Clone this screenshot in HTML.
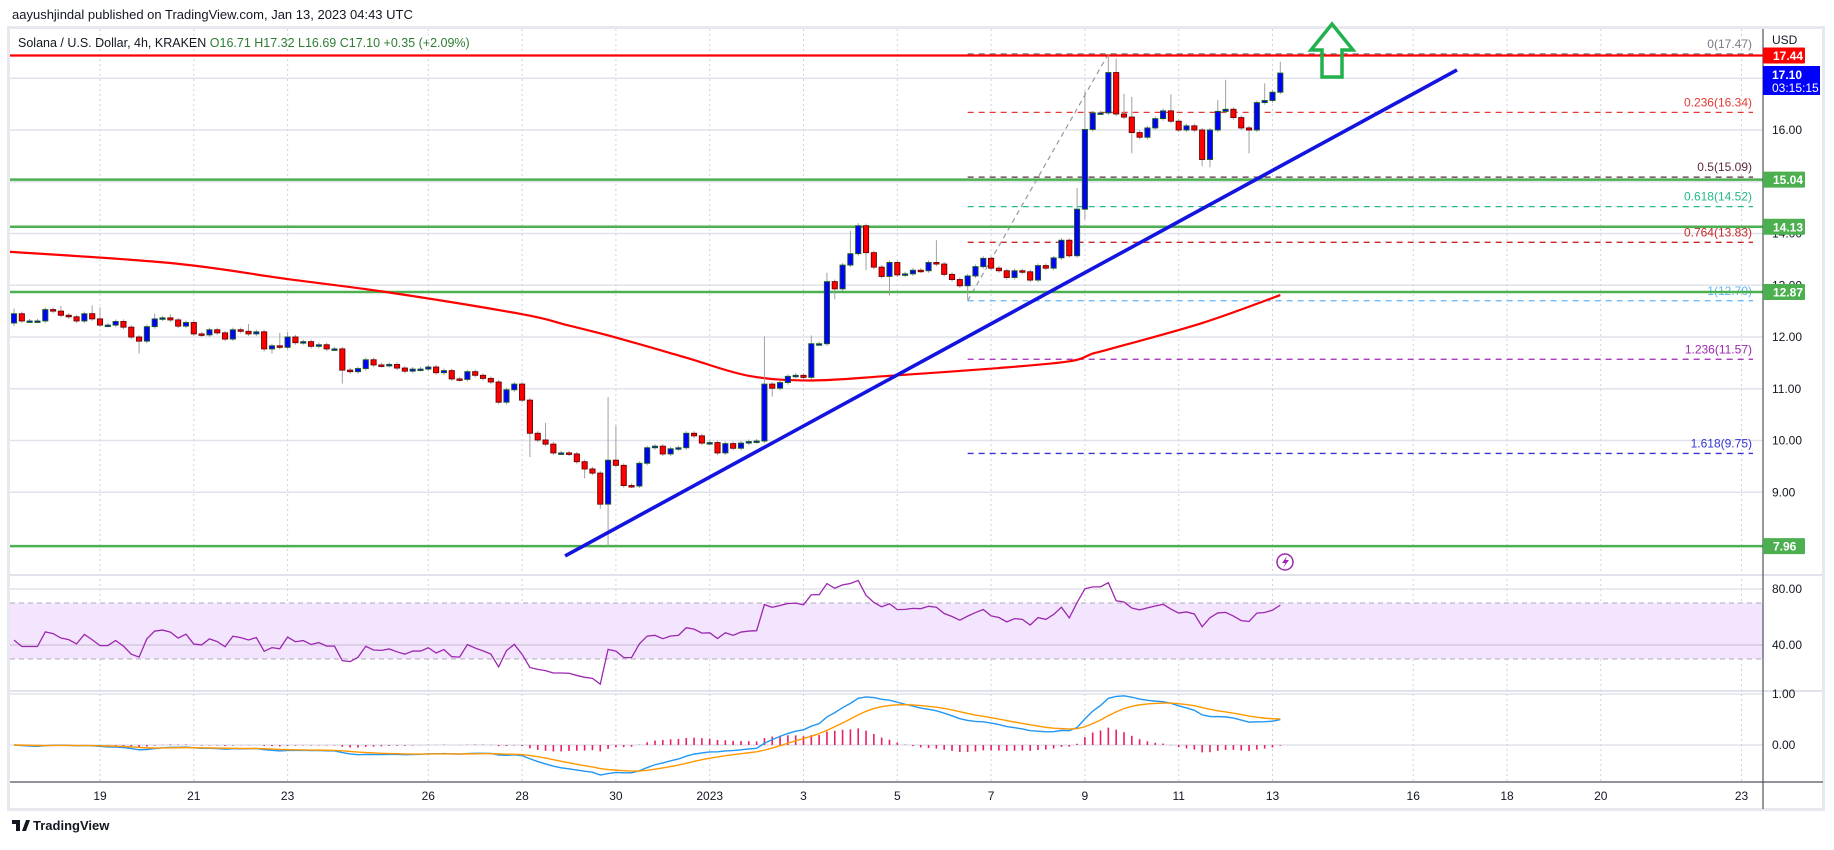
<!DOCTYPE html>
<html><head><meta charset="utf-8">
<style>
html,body{margin:0;padding:0;background:#fff;}
body{width:1834px;height:845px;overflow:hidden;font-family:"Liberation Sans",sans-serif;}
svg text{font-family:"Liberation Sans",sans-serif;}
</style></head>
<body>
<svg id="chart" width="1834" height="845" viewBox="0 0 1834 845" xmlns="http://www.w3.org/2000/svg">
  <defs>
    <clipPath id="mainClip"><rect x="10" y="29" width="1753" height="546"/></clipPath>
    <clipPath id="rsiClip"><rect x="10" y="576" width="1753" height="115"/></clipPath>
    <clipPath id="macdClip"><rect x="10" y="692" width="1753" height="90"/></clipPath>
  </defs>
  <text x="12" y="19" font-size="13" fill="#131722">aayushjindal published on TradingView.com, Jan 13, 2023 04:43 UTC</text>
  <rect x="8.5" y="27.5" width="1815" height="782" fill="none" stroke="#e8e9ef" stroke-width="3"/>
</svg>
<script>
// ---------- DATA ----------
const startIdx = -11;           // first candle index (4h bars from Dec 19 00:00)
const firstOpen = 12.27;
const closes = [
12.45,12.31,12.31,12.31,12.53,12.50,12.42,12.39,12.31,12.45,12.35,
12.23,12.23,12.30,12.19,12.00,11.92,12.20,12.35,12.37,12.33,
12.21,12.28,12.06,12.04,12.14,12.08,11.96,12.14,12.11,12.06,
12.10,11.77,11.83,11.80,12.00,11.89,11.91,11.82,11.85,11.77,
11.77,11.36,11.33,11.39,11.56,11.46,11.45,11.47,11.40,11.34,
11.38,11.38,11.42,11.31,11.35,11.19,11.18,11.33,11.26,11.20,
11.13,10.74,10.98,11.09,10.78,10.14,10.01,9.93,9.76,9.76,
9.74,9.59,9.45,9.37,8.77,9.62,9.52,9.13,9.12,9.56,
9.86,9.89,9.74,9.84,9.86,10.14,10.09,9.95,9.96,9.76,
9.94,9.85,9.95,9.98,9.99,11.09,11.01,11.12,11.24,11.26,
11.22,11.87,11.87,13.07,12.93,13.39,13.61,14.15,13.63,13.35,
13.17,13.44,13.20,13.22,13.29,13.28,13.44,13.41,13.21,13.11,
12.99,13.18,13.36,13.52,13.33,13.28,13.15,13.28,13.26,13.10,
13.38,13.33,13.53,13.87,13.57,14.47,16.01,16.33,16.33,17.11,
16.31,16.25,15.95,15.86,16.04,16.22,16.37,16.17,16.00,16.08,
16.00,15.43,16.00,16.36,16.40,16.24,16.04,16.00,16.53,16.57,
16.73,17.10];
const wickHigh = {"-11":12.55,"-5":12.60,"-1":12.61,"0":12.57,"7":12.45,"9":12.44,"19":12.25,"23":12.08,"24":12.10,
  "57":10.34,"65":10.84,"66":10.29,"85":12.01,"91":12.03,"93":13.24,"96":14.05,"97":14.20,"107":13.87,
  "125":14.88,"126":16.75,"129":17.47,"130":17.38,"131":16.70,"132":16.64,"137":16.69,"143":16.58,"144":16.97,"149":16.90,"151":17.32};
const wickLow = {"-11":12.21,"5":11.68,"21":11.72,"22":11.68,"31":11.10,"55":9.68,"62":9.27,"64":8.68,"65":7.95,
  "86":10.85,"94":12.73,"98":13.29,"101":12.80,"111":12.72,"126":14.27,"132":15.55,"141":15.30,"142":15.28,"147":15.55,"151":16.69};
const maIdx  = [-13, 9, 24, 37, 54, 60, 66, 75, 83, 91, 101, 115, 124, 127, 129, 141, 151];
const maVals = [13.66,13.43,13.12,12.86,12.44,12.22,11.99,11.60,11.25,11.16,11.25,11.40,11.53,11.68,11.76,12.27,12.81];
const priceTicks = [9,10,11,12,13,14,15,16,17];
const priceTickLabels = ["9.00","10.00","11.00","12.00","13.00","14.00","15.00","16.00","17.00"];
const dateDays = [0,2,4,7,9,11,13,15,17,19,21,23,25,28,30,32,35];
const dateLabels = ["19","21","23","26","28","30","2023","3","5","7","9","11","13","16","18","20","23"];
const hLevels = [15.04,14.13,12.87,7.96];
const resistance = 17.44;
const fibRatios = ["0","0.236","0.5","0.618","0.764","1","1.236","1.618"];
const fibPrices = [17.47,16.34,15.09,14.52,13.83,12.70,11.57,9.75];
const fibColors = ["#787b86","#e53935","#5d2a40","#26b98a","#c62828","#64b5f6","#9c27b0","#3434d4"];
const fibStart = 111, fibLowIdx = 111, fibHighIdx = 129;
const trendStart = [59.5, 7.77], trendEnd = [173.6, 17.16];
const rsiTicks = [80,40], rsiTickLabels = ["80.00","40.00"];
const macdTicks = [1,0], macdTickLabels = ["1.00","0.00"];
const rsiSeedGain = 0.040, rsiSeedLoss = 0.052;

// ---------- SCALES ----------
const NS='http://www.w3.org/2000/svg';
const svg=document.getElementById('chart');
function mk(tag,a,parent){const e=document.createElementNS(NS,tag);for(const k in a)e.setAttribute(k,a[k]);(parent||svg).appendChild(e);return e;}
const PL=10, AX=1763, FR=1823;
function xIdx(i){return 100+i*46.9/6;}
function xDay(d){return 100+d*46.9;}
function yP(p){return 130+(16-p)*51.75;}
function yR(v){return 589+(80-v)*1.4;}
function yM(v){return 745-v*51;}

const gGrid=mk('g',{});


priceTicks.forEach(p=>{
  const l=mk('line',{x1:PL,x2:AX,y1:yP(p),y2:yP(p),stroke:'#e0e3eb','stroke-width':1.5},gGrid);
  
  
});
[80,40].forEach(v=>{
  const l=mk('line',{x1:PL,x2:AX,y1:yR(v),y2:yR(v),stroke:'#e0e3eb','stroke-width':1.5},gGrid);
  
  
});
[1,0].forEach(v=>{
  const l=mk('line',{x1:PL,x2:AX,y1:yM(v),y2:yM(v),stroke:'#e0e3eb','stroke-width':1.5},gGrid);
  
  
});
dateDays.forEach(d=>{
  const l=mk('line',{x1:xDay(d),x2:xDay(d),y1:29,y2:782,stroke:'#cfd2da','stroke-width':1,'stroke-dasharray':'2,3'},gGrid);
  
  
});
[575,691].forEach(y=>{
  const l=mk('line',{x1:PL,x2:FR,y1:y,y2:y,stroke:'#e0e3eb','stroke-width':2});
  
  
});

// ---------- MAIN PANE ----------
const gMain=mk('g',{'clip-path':'url(#mainClip)'});



const band=mk('rect',{x:PL,y:yR(70),width:AX-PL,height:yR(30)-yR(70),fill:'#f3e5fd'});


[70,30].forEach(v=>{
  const l=mk('line',{x1:PL,x2:AX,y1:yR(v),y2:yR(v),stroke:'#b2a8b8','stroke-width':1,'stroke-dasharray':'5,4'});
  
  
});
const rl40=mk('line',{x1:PL,x2:AX,y1:yR(40),y2:yR(40),stroke:'#d6c8de','stroke-width':1.5});



const x0f=xIdx(fibStart), x1f=1753;
fibPrices.forEach((p,k)=>{
  const l=mk('line',{x1:x0f,x2:x1f,y1:yP(p),y2:yP(p),stroke:fibColors[k],'stroke-width':1.3,'stroke-dasharray':'6,5'},gMain);
  
  
  const t=mk('text',{x:1752,y:yP(p)-6,'text-anchor':'end','font-size':12,fill:fibColors[k]},gMain);
  t.textContent=fibRatios[k]+'('+p.toFixed(2)+')';
  
  
});
const fd=mk('line',{x1:xIdx(fibLowIdx),y1:yP(fibPrices[5]),x2:xIdx(fibHighIdx),y2:yP(fibPrices[0]),stroke:'#9598a1','stroke-width':1.2,'stroke-dasharray':'5,4'},gMain);



const rr=mk('line',{x1:PL,x2:AX,y1:yP(resistance),y2:yP(resistance),stroke:'#ff0000','stroke-width':2.2},gMain);


hLevels.forEach(p=>{
  const l=mk('line',{x1:PL,x2:AX,y1:yP(p),y2:yP(p),stroke:'#4caf50','stroke-width':2.5},gMain);
  
  
});

(function(){
  const pts=maIdx.map((i,k)=>[xIdx(i),yP(maVals[k])]);
  let d='M'+pts[0][0]+','+pts[0][1];
  for(let k=0;k<pts.length-1;k++){
    const p0=pts[Math.max(0,k-1)],p1=pts[k],p2=pts[k+1],p3=pts[Math.min(pts.length-1,k+2)];
    const c1x=p1[0]+(p2[0]-p0[0])/6,c1y=p1[1]+(p2[1]-p0[1])/6;
    const c2x=p2[0]-(p3[0]-p1[0])/6,c2y=p2[1]-(p3[1]-p1[1])/6;
    d+=' C'+c1x+','+c1y+' '+c2x+','+c2y+' '+p2[0]+','+p2[1];
  }
  const ma=mk('path',{d:d,fill:'none',stroke:'#ff0000','stroke-width':2.2},gMain);
  
  
})();

const gC=mk('g',{},gMain);


closes.forEach((c,i)=>{
  const idx=startIdx+i;
  const o=i===0?firstOpen:closes[i-1];
  const h=(wickHigh[idx]!==undefined)?wickHigh[idx]:Math.max(o,c)+0.04;
  const lo=(wickLow[idx]!==undefined)?wickLow[idx]:Math.min(o,c)-0.04;
  const x=xIdx(idx), up=c>=o;
  const w=mk('line',{x1:x,x2:x,y1:yP(h),y2:yP(lo),stroke:'#a0a0a0','stroke-width':1},gC);
  
  
  const top=yP(Math.max(o,c)), bot=yP(Math.min(o,c));
  const b=mk('rect',{x:x-2.6,y:top,width:5.2,height:Math.max(1.5,bot-top),fill:up?'#0000ff':'#ff0000',stroke:up?'#1b5e20':'#6d0000','stroke-width':0.9},gC);
  
  
});

const tl=mk('line',{x1:xIdx(trendStart[0]),y1:yP(trendStart[1]),x2:xIdx(trendEnd[0]),y2:yP(trendEnd[1]),stroke:'#1414e0','stroke-width':3.6,'stroke-linecap':'butt'},gMain);



(function(){
  const cx=1332;
  const d='M'+(cx-10)+',77 L'+(cx+10)+',77 L'+(cx+10)+',50 L'+(cx+21)+',50 L'+cx+',24 L'+(cx-21)+',50 L'+(cx-10)+',50 Z';
  const a=mk('path',{d:d,fill:'none',stroke:'#22b14c','stroke-width':3.5,'stroke-linejoin':'miter'});
  
  
})();

const lc=mk('circle',{cx:1285,cy:562,r:8,fill:'#fff',stroke:'#9c27b0','stroke-width':1.5});


const lp=mk('path',{d:'M1287,556 L1282,563 L1285.5,563 L1283,568 L1289,560 L1285.5,560 Z',fill:'#9c27b0'});



// ---------- RSI ----------
const rsiVals=[];
(function(){
  let ag=rsiSeedGain,al=rsiSeedLoss;const n=14;
  rsiVals.push(100-100/(1+ag/al));
  for(let i=1;i<closes.length;i++){
    const ch=closes[i]-closes[i-1];
    const g=Math.max(ch,0),l=Math.max(-ch,0);
    ag=(ag*(n-1)+g)/n;al=(al*(n-1)+l)/n;
    rsiVals.push(al===0?100:100-100/(1+ag/al));
  }
})();
const gR=mk('g',{'clip-path':'url(#rsiClip)'});


const rp=mk('polyline',{points:rsiVals.map((v,i)=>xIdx(startIdx+i)+','+yR(v)).join(' '),fill:'none',stroke:'#9c27b0','stroke-width':1.3},gR);



// ---------- MACD ----------
const macdLine=[],signalLine=[],histVals=[];
(function(){
  let e12=closes[0],e26=closes[0],sig=0;
  const k12=2/13,k26=2/27,k9=2/10;
  closes.forEach((c,i)=>{
    e12=c*k12+e12*(1-k12);e26=c*k26+e26*(1-k26);
    const m=e12-e26; sig=i===0?m:m*k9+sig*(1-k9);
    macdLine.push(m);signalLine.push(sig);histVals.push(m-sig);
  });
})();
const gM=mk('g',{'clip-path':'url(#macdClip)'});


histVals.forEach((h,i)=>{
  const x=xIdx(startIdx+i);
  const b=mk('line',{x1:x,x2:x,y1:yM(0),y2:yM(h),stroke:'#e91e63','stroke-width':1.6},gM);
  
  
});
const ml=mk('polyline',{points:macdLine.map((v,i)=>xIdx(startIdx+i)+','+yM(v)).join(' '),fill:'none',stroke:'#2196f3','stroke-width':1.4},gM);


const sl=mk('polyline',{points:signalLine.map((v,i)=>xIdx(startIdx+i)+','+yM(v)).join(' '),fill:'none',stroke:'#ff9800','stroke-width':1.4},gM);



// ---------- AXES ----------
const axl=mk('line',{x1:AX,x2:AX,y1:29,y2:809,stroke:'#50535e','stroke-width':1.2});


const txl=mk('line',{x1:PL,x2:FR,y1:782,y2:782,stroke:'#50535e','stroke-width':1.2});



const usd=mk('text',{x:1772,y:44,'font-size':12,fill:'#131722'});
usd.textContent='USD';



priceTicks.forEach((p,k)=>{
  const t=mk('text',{x:1772,y:yP(p)+4,'font-size':12,fill:'#131722'});
  t.textContent=priceTickLabels[k];
  
  
});
rsiTicks.forEach((v,k)=>{
  const t=mk('text',{x:1772,y:yR(v)+4,'font-size':12,fill:'#131722'});
  t.textContent=rsiTickLabels[k];
  
  
});
macdTicks.forEach((v,k)=>{
  const t=mk('text',{x:1772,y:yM(v)+4,'font-size':12,fill:'#131722'});
  t.textContent=macdTickLabels[k];
  
  
});
dateDays.forEach((d,k)=>{
  const t=mk('text',{x:xDay(d),y:800,'font-size':12,fill:'#131722','text-anchor':'middle'});
  t.textContent=dateLabels[k];
  
  
});

function tag(p,color,label,name,wid){
  const y=yP(p);
  const r=mk('rect',{x:AX,y:y-8,width:wid,height:16,fill:color,rx:1});
  
  
  const t=mk('text',{x:AX+10,y:y+4.5,'font-size':12,'font-weight':'bold',fill:'#fff'});
  t.textContent=label;
  
  
}
hLevels.forEach(p=>tag(p,'#4caf50',p.toFixed(2),'support-price-tag',42));
tag(resistance,'#ff0000',resistance.toFixed(2),'resistance-price-tag',42);
(function(){
  const last=closes[closes.length-1];
  const r=mk('rect',{x:AX,y:66,width:57,height:29,fill:'#0000ff'});
  
  
  const t1=mk('text',{x:AX+9,y:79,'font-size':12,'font-weight':'bold',fill:'#fff'});
  t1.textContent=last.toFixed(2);
  
  
  const t2=mk('text',{x:AX+9,y:92,'font-size':12,fill:'#fff'});
  t2.textContent='03:15:15';
  
  
})();

(function(){
  const t=mk('text',{x:18,y:47,'font-size':12.5,fill:'#131722'});
  
  
  const parts=[['Solana / U.S. Dollar, 4h, KRAKEN ','#131722'],[' O16.71 ','#2e7d32'],[' H17.32 ','#2e7d32'],[' L16.69 ','#2e7d32'],[' C17.10 ','#2e7d32'],[' +0.35 (+2.09%)','#2e7d32']];
  parts.forEach(pp=>{
    const s=mk('tspan',{fill:pp[1]},t);
    s.textContent=pp[0];
    
    
  });
})();

(function(){
  const g=mk('g',{});
  
  
  const a=mk('path',{d:'M12,820 h8 v11 h-4 v-7 h-4 z M22,831 l4,-11 h4 l-4,11 z',fill:'#131722'},g);
  
  
  const t=mk('text',{x:33,y:830,'font-size':13,fill:'#131722','font-weight':'bold'},g);
  t.textContent='TradingView';
  
  
})();
</script>
</body></html>
